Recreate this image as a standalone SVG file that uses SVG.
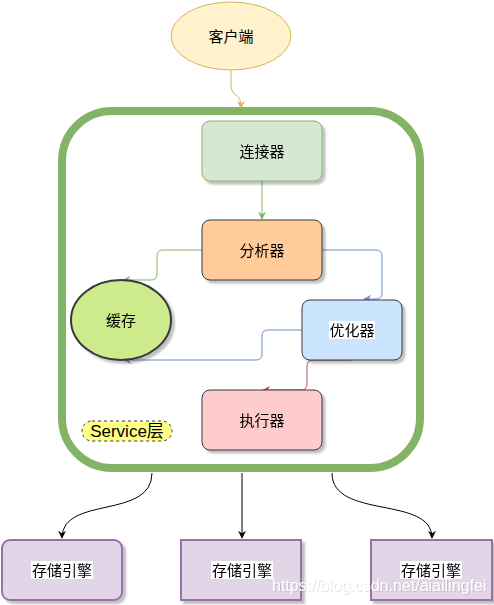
<svg xmlns="http://www.w3.org/2000/svg" width="494" height="605" viewBox="0 0 494 605">
<style>
text{font-family:"Liberation Sans","Noto Sans CJK SC",sans-serif;font-size:15px;fill:#000;text-anchor:middle;dominant-baseline:central}
.n{stroke:#36393d;stroke-width:1}
.c{fill:none;stroke-width:1}
.st{fill:#e1d5e7;stroke:#9673a6;stroke-width:2}
.wm{font-size:16px;text-anchor:start;dominant-baseline:auto;fill:#fff}
</style>
<defs>
<filter id="sh" x="-20%" y="-20%" width="140%" height="140%">
<feGaussianBlur in="SourceAlpha" stdDeviation="1"/>
<feOffset dx="3" dy="3" result="o"/>
<feComponentTransfer><feFuncA type="linear" slope="0.25"/></feComponentTransfer>
<feMerge><feMergeNode/><feMergeNode in="SourceGraphic"/></feMerge>
</filter>
<filter id="ws" x="-5%" y="-30%" width="110%" height="160%">
<feGaussianBlur in="SourceAlpha" stdDeviation="0.6"/>
<feOffset dx="0.5" dy="0.5"/>
<feComponentTransfer><feFuncA type="linear" slope="0.12"/></feComponentTransfer>
<feMerge><feMergeNode/><feMergeNode in="SourceGraphic"/></feMerge>
</filter>
<marker id="ag" viewBox="0 0 10 10" refX="9" refY="5" markerWidth="8" markerHeight="8" orient="auto" markerUnits="userSpaceOnUse"><path d="M0,0 L10,5 L0,10 L3,5 Z" fill="#82b366"/></marker>
<marker id="ab" viewBox="0 0 10 10" refX="9" refY="5" markerWidth="8" markerHeight="8" orient="auto" markerUnits="userSpaceOnUse"><path d="M0,0 L10,5 L0,10 L3,5 Z" fill="#6c8ebf"/></marker>
<marker id="ar" viewBox="0 0 10 10" refX="9" refY="5" markerWidth="8" markerHeight="8" orient="auto" markerUnits="userSpaceOnUse"><path d="M0,0 L10,5 L0,10 L3,5 Z" fill="#b85450"/></marker>
<marker id="ay" viewBox="0 0 10 10" refX="9" refY="5" markerWidth="8" markerHeight="8" orient="auto" markerUnits="userSpaceOnUse"><path d="M0,0 L10,5 L0,10 L3,5 Z" fill="#d6b656"/></marker>
<marker id="ak" viewBox="0 0 10 10" refX="9" refY="5" markerWidth="8" markerHeight="8" orient="auto" markerUnits="userSpaceOnUse"><path d="M0,0 L10,5 L0,10 L3,5 Z" fill="#000"/></marker>
</defs>
<rect width="494" height="605" fill="#fff"/>

<g id="service-container">
<rect x="62" y="111" width="358" height="357" rx="50" fill="#fff" stroke="#82b366" stroke-width="8"/>
</g>

<g id="connectors">
<path class="c" d="M231 70 V85 Q231 92 236 95 Q241 98 241 106 V108" stroke="#d6b656" marker-end="url(#ay)"/>
<path class="c" d="M262 181 V219" stroke="#82b366" marker-end="url(#ag)"/>
<path class="c" d="M202 250 H163 Q157 250 157 256 V274 Q157 280 151 280 H123" stroke="#82b366" marker-end="url(#ag)"/>
<path class="c" d="M322 250 H376 Q382 250 382 256 V293 Q382 299 376 299 H364" stroke="#6c8ebf" marker-end="url(#ab)"/>
<path class="c" d="M302 330 H268 Q262 330 262 336 V354 Q262 360 256 360 H124" stroke="#6c8ebf" marker-end="url(#ab)"/>
<path class="c" d="M351 360 H313 Q307 360 307 366 V384 Q307 390 301 390 H263" stroke="#b85450" marker-end="url(#ar)"/>
<path class="c" d="M152 473 C152 520 62 495 62 538" stroke="#000" marker-end="url(#ak)"/>
<path class="c" d="M242 473 V538" stroke="#000" marker-end="url(#ak)"/>
<path class="c" d="M332 473 C332 520 432 495 432 538" stroke="#000" marker-end="url(#ak)"/>
</g>

<g id="client">
<ellipse cx="231" cy="36" rx="60" ry="34" fill="#fff2cc" stroke="#d6b656"/>
<text x="231" y="36">客户端</text>
</g>

<g id="connector-node" filter="url(#sh)">
<rect x="202" y="121" width="120" height="60" rx="8" fill="#d5e8d4" stroke="#82b366"/>
<text x="262" y="151">连接器</text>
</g>

<g id="analyzer" filter="url(#sh)">
<rect class="n" x="202" y="220" width="120" height="60" rx="8" fill="#ffcc99"/>
<text x="262" y="250">分析器</text>
</g>

<g id="cache" filter="url(#sh)">
<ellipse cx="121" cy="320" rx="50" ry="40" fill="#cdeb8b" stroke="#36393d" stroke-width="2"/>
<text x="121" y="320">缓存</text>
</g>

<g id="optimizer" filter="url(#sh)">
<rect class="n" x="302" y="300" width="100" height="60" rx="8" fill="#cce5ff"/>
<rect x="329" y="321" width="46" height="18" fill="#fff"/>
<text x="352" y="330">优化器</text>
</g>

<g id="executor" filter="url(#sh)">
<rect class="n" x="202" y="390" width="120" height="60" rx="8" fill="#ffcccc"/>
<text x="262" y="420">执行器</text>
</g>

<g id="service-label">
<rect x="82" y="421" width="90" height="20" rx="10" fill="#ffff88" stroke="#36393d" stroke-dasharray="3 3"/>
<text x="127" y="431" style="font-size:17px">Service层</text>
</g>

<g id="engine1" filter="url(#sh)">
<rect class="st" x="2" y="540" width="120" height="60" rx="8"/>
<rect x="31" y="561" width="62" height="18" fill="#fff"/>
<text x="62" y="570">存储引擎</text>
</g>
<g id="engine2" filter="url(#sh)">
<rect class="st" x="181" y="540" width="120" height="60"/>
<rect x="211" y="561" width="62" height="18" fill="#fff"/>
<text x="242" y="570">存储引擎</text>
</g>
<g id="engine3" filter="url(#sh)">
<rect class="st" x="371" y="540" width="121" height="60"/>
<rect x="400" y="561" width="62" height="18" fill="#fff"/>
<text x="431" y="570">存储引擎</text>
</g>

<g id="watermark">
<text class="wm" x="272" y="591" filter="url(#ws)">https://blog.csdn.net/aiailingfei</text>
</g>
</svg>
